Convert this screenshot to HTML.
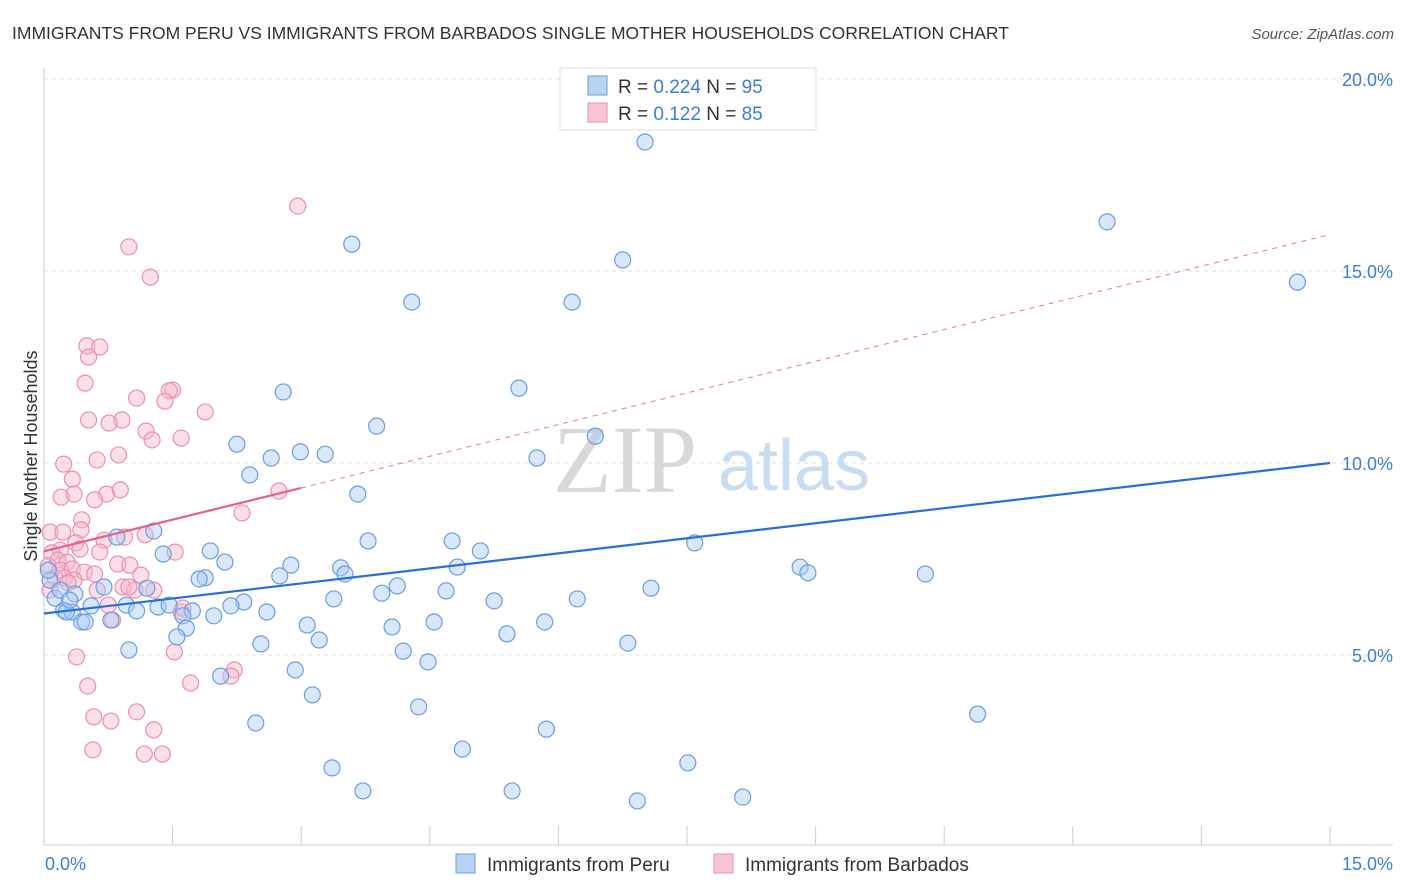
<!DOCTYPE html>
<html><head><meta charset="utf-8">
<style>
body{margin:0;background:#fff;font-family:"Liberation Sans",sans-serif;}
svg{display:block}
</style></head>
<body>
<svg id="chart" width="1406" height="892" xmlns="http://www.w3.org/2000/svg">
<text x="12" y="39" font-size="17.5" fill="#333">IMMIGRANTS FROM PERU VS IMMIGRANTS FROM BARBADOS SINGLE MOTHER HOUSEHOLDS CORRELATION CHART</text>
<text x="1394" y="39" font-size="15" fill="#555" font-style="italic" text-anchor="end">Source: ZipAtlas.com</text>
<g id="grid"></g>
<g>
<text x="553" y="492" font-family="Liberation Serif,serif" font-size="96" fill="#d8d8d8">ZIP</text>
<text x="718" y="490" font-size="72" fill="#c8dcf2">atlas</text>
</g>
<g id="axes"></g>
<g id="trends"></g>
<g id="pts"></g>
<text x="37" y="456" font-size="18" fill="#333" text-anchor="middle" transform="rotate(-90 37 456)">Single Mother Households</text>
<text x="45" y="870" font-size="18" fill="#3d7dd8">0.0%</text>
<text x="1393" y="870" font-size="18" fill="#3d7dd8" text-anchor="end">15.0%</text>
<g>
<rect x="560" y="68" width="256" height="62" fill="#fff" stroke="#ddd"/>
<rect x="588" y="76" width="19" height="19" fill="#b8d2f4" stroke="#6a9de0"/>
<text x="618" y="93" font-size="19" fill="#333">R = <tspan fill="#3d7dd8">0.224</tspan>   N = <tspan fill="#3d7dd8">95</tspan></text>
<rect x="588" y="103" width="19" height="19" fill="#f8c4d4" stroke="#ec90ae"/>
<text x="618" y="120" font-size="19" fill="#333">R =  <tspan fill="#3d7dd8">0.122</tspan>   N = <tspan fill="#3d7dd8">85</tspan></text>
</g>
<g>
<rect x="456" y="854" width="19" height="19" fill="#b8d2f4" stroke="#6a9de0"/>
<text x="487" y="871" font-size="19" fill="#333">Immigrants from Peru</text>
<rect x="714" y="854" width="19" height="19" fill="#f8c4d4" stroke="#ec90ae"/>
<text x="745" y="871" font-size="19" fill="#333">Immigrants from Barbados</text>
</g>
</svg>
<script>
const yTicks=[5,10,15,20];
const yTickLabels=["5.0%","10.0%","15.0%","20.0%"];
const xTicks=[0,1.5,3,4.5,6,7.5,9,10.5,12,13.5,15];
const peruX=[7.01,12.40,14.62,3.59,6.75,4.29,6.16,2.79,5.54,3.88,2.25,6.43,2.99,3.28,2.65,5.75,2.40,3.66,1.28,7.59,0.85,3.78,4.76,5.09,1.94,1.39,2.11,2.88,3.46,4.82,8.82,8.91,10.28,3.51,2.75,1.88,1.81,0.70,1.20,7.08,4.12,3.94,4.69,3.38,5.25,6.22,2.33,2.18,1.33,1.46,1.73,2.60,1.98,0.96,1.08,0.55,0.23,0.33,0.44,0.78,1.62,3.07,4.06,4.55,5.84,1.66,1.55,3.21,5.40,6.81,2.53,0.99,4.19,4.48,2.93,2.06,3.13,4.37,10.89,2.47,5.86,4.88,7.51,3.36,3.72,5.46,6.92,8.15,0.07,0.13,0.19,0.26,0.36,0.05,0.30,0.48];
const peruY=[18.36,16.28,14.71,15.70,15.29,14.19,14.19,11.85,11.95,10.96,10.49,10.70,10.29,10.23,10.13,10.13,9.69,9.19,8.23,7.92,8.07,7.97,7.97,7.71,7.71,7.63,7.42,7.34,7.27,7.29,7.29,7.14,7.11,7.11,7.06,7.01,6.98,6.77,6.74,6.74,6.80,6.61,6.67,6.46,6.41,6.46,6.38,6.28,6.25,6.30,6.15,6.12,6.02,6.30,6.15,6.28,6.17,6.12,5.86,5.91,6.02,5.78,5.73,5.86,5.86,5.70,5.47,5.39,5.55,5.31,5.29,5.13,5.10,4.82,4.61,4.45,3.96,3.65,3.46,3.23,3.07,2.55,2.19,2.06,1.46,1.46,1.20,1.30,6.95,6.48,6.69,6.12,6.59,7.21,6.43,5.86];
const barbX=[2.96,0.99,1.24,0.50,0.65,0.52,0.48,1.50,1.46,1.08,1.41,1.88,0.52,0.91,0.76,1.19,1.26,1.60,0.23,0.62,0.87,0.33,0.73,0.89,0.35,0.59,0.20,2.31,2.74,0.44,0.07,0.22,0.43,1.18,0.94,0.70,0.37,0.19,0.42,0.09,0.65,1.53,0.16,0.27,0.86,1.00,0.05,0.19,0.33,0.47,0.59,1.13,0.13,0.24,0.35,0.28,0.62,0.07,0.92,1.06,0.99,1.28,0.75,1.60,1.62,0.80,1.52,0.38,2.22,2.18,1.71,0.51,0.58,1.08,0.78,1.28,0.57,1.17,1.38];
const barbY=[16.69,15.63,14.84,13.05,13.02,12.76,12.08,11.90,11.88,11.69,11.61,11.33,11.12,11.12,11.04,10.83,10.60,10.65,9.97,10.08,10.21,9.58,9.19,9.30,9.19,9.04,9.11,8.70,9.27,8.52,8.20,8.20,8.26,8.13,8.07,7.99,7.92,7.73,7.76,7.66,7.68,7.68,7.47,7.42,7.37,7.34,7.32,7.21,7.24,7.16,7.11,7.08,7.01,7.01,6.95,6.88,6.69,6.69,6.77,6.69,6.77,6.69,6.30,6.12,6.22,5.91,5.08,4.95,4.61,4.45,4.27,4.19,3.39,3.52,3.28,3.05,2.53,2.42,2.42];
const peruTrend=[6.08,10.0];
const barbTrend=[7.7,15.95];
const barbSolidEnd=3.0;

const NS="http://www.w3.org/2000/svg";
const X0=44,X1=1330,Y0=847,PPY=38.4;
const sx=v=>X0+v/15*(X1-X0);
const sy=v=>Y0-v*PPY;
function mk(tag,attrs,parent){const e=document.createElementNS(NS,tag);for(const k in attrs)e.setAttribute(k,attrs[k]);parent.appendChild(e);return e;}
const grid=document.getElementById('grid'),axes=document.getElementById('axes'),trends=document.getElementById('trends'),pts=document.getElementById('pts');
yTicks.forEach((t,i)=>{
  const l=mk('line',{x1:44,x2:1393,y1:sy(t),y2:sy(t),stroke:'#dcdcdc','stroke-dasharray':'4,4'},grid);
  
  
  const tx=mk('text',{x:1393,y:sy(t)+7,'font-size':18,fill:'#3d7dd8','text-anchor':'end'},axes);
  tx.textContent=yTickLabels[i];
  
  
});
const xl=mk('line',{x1:44,x2:1393,y1:845,y2:845,stroke:'#ccc'},axes);


const yl=mk('line',{x1:44,x2:44,y1:68,y2:845,stroke:'#ccc'},axes);


xTicks.forEach(t=>{
  const l=mk('line',{x1:sx(t),x2:sx(t),y1:826,y2:845,stroke:'#ccc'},axes);
  
  
});
function dots(xs,ys,fill,stroke,name){
  xs.forEach((x,i)=>{
    const c=mk('circle',{cx:sx(x),cy:sy(ys[i]),r:8,fill:fill,'fill-opacity':0.45,stroke:stroke,'stroke-width':1.2},pts);
    
    
  });
}
dots(barbX,barbY,'#f7b9cd','#ec8fae','point-barbados');
dots(peruX,peruY,'#a9c9f2','#6a9de0','point-peru');
const bd=mk('line',{x1:sx(barbSolidEnd),y1:sy(barbTrend[0]+(barbTrend[1]-barbTrend[0])*barbSolidEnd/15),x2:sx(15),y2:sy(barbTrend[1]),stroke:'#e8799d','stroke-width':1,'stroke-dasharray':'5,5'},trends);


const bs=mk('line',{x1:sx(0),y1:sy(barbTrend[0]),x2:sx(barbSolidEnd),y2:sy(barbTrend[0]+(barbTrend[1]-barbTrend[0])*barbSolidEnd/15),stroke:'#e8608a','stroke-width':2.2},trends);


const pt=mk('line',{x1:sx(0),y1:sy(peruTrend[0]),x2:sx(15),y2:sy(peruTrend[1]),stroke:'#2a6fd6','stroke-width':2.2},trends);


document.getElementById('chart').appendChild(trends);
</script>
</body></html>
